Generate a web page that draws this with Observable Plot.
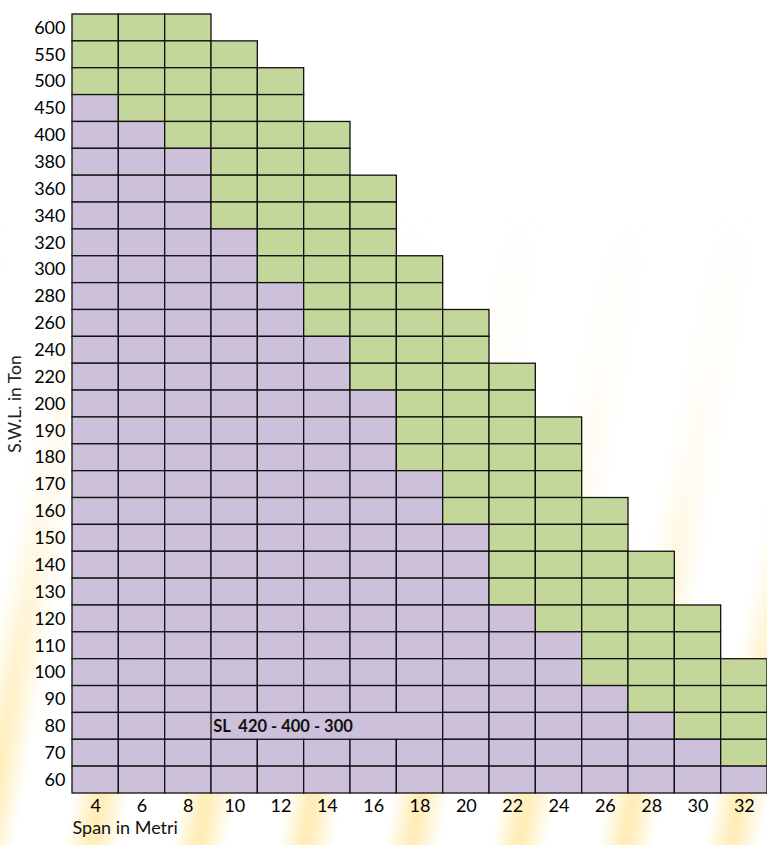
<!DOCTYPE html>
<html>
<head>
<meta charset="utf-8">
<script src="https://cdn.jsdelivr.net/npm/d3@7"></script>
<script src="https://cdn.jsdelivr.net/npm/@observablehq/plot@0.6"></script>
<style>
  html, body { margin: 0; padding: 0; background: #fff; }
  #wrap {
    position: relative; width: 767px; height: 845px; overflow: hidden;
  }
  #bg {
    position: absolute; left: 0; top: 0; width: 767px; height: 845px;
    background: repeating-linear-gradient(100deg,
      rgba(255,214,90,0) 0px, rgba(255,214,90,0.42) 24px, rgba(255,214,90,0.42) 30px,
      rgba(255,214,90,0) 56px, rgba(255,214,90,0) 105px);
    -webkit-mask-image: linear-gradient(to bottom, rgba(0,0,0,0) 25%, rgba(0,0,0,0.2) 55%, rgba(0,0,0,1) 94%);
    mask-image: linear-gradient(to bottom, rgba(0,0,0,0) 25%, rgba(0,0,0,0.2) 55%, rgba(0,0,0,1) 94%);
  }
  #chart { position: absolute; left: 0; top: 0; }
</style>
</head>
<body>
<div id="wrap"><div id="bg"></div><div id="chart"></div></div>
<script>
const spans = [4, 6, 8, 10, 12, 14, 16, 18, 20, 22, 24, 26, 28, 30, 32];
const loads = [600, 550, 500, 450, 400, 380, 360, 340, 320, 300, 280, 260, 240, 220, 200, 190, 180, 170, 160, 150, 140, 130, 120, 110, 100, 90, 80, 70, 60];
// highest load drawn for each span
const maxLoad = [600, 600, 600, 550, 500, 400, 360, 300, 260, 220, 190, 160, 140, 120, 100];
// lowest load shown in green for each span
const greenFrom = [500, 450, 400, 340, 300, 260, 220, 180, 160, 130, 120, 100, 90, 80, 70];
// merged label cell
const labelText = "SL  420 - 400 - 300";
const labelLoad = 80;
const mergedSpans = [10, 12, 14, 16, 18];

const cells = [];
spans.forEach((s, i) => {
  loads.forEach(l => {
    if (l <= maxLoad[i]) {
      cells.push({span: s, load: l, kind: l >= greenFrom[i] ? "G" : "P",
        merged: l === labelLoad && mergedSpans.includes(s)});
    }
  });
});

const colors = {G: "#c4d79b", P: "#ccc0da"};

const plot = Plot.plot({
  width: 767,
  height: 845,
  marginLeft: 72,
  marginRight: 0,
  marginTop: 14,
  marginBottom: 52,
  style: {background: "transparent", fontFamily: "Lato, 'Open Sans', sans-serif", fontSize: "17px", color: "#000"},
  x: {type: "band", domain: spans, padding: 0, round: false, label: null},
  y: {type: "band", domain: loads, padding: 0, round: false, label: null},
  marks: [
    Plot.cell(cells.filter(d => d.merged), {x: "span", y: "load", fill: d => colors[d.kind], stroke: d => colors[d.kind]}),
    Plot.cell(cells.filter(d => !d.merged), {x: "span", y: "load", fill: d => colors[d.kind], stroke: "#111", strokeWidth: 1.3}),
    Plot.text([labelText], {x: () => mergedSpans[0], y: () => labelLoad, text: d => d, textAnchor: "start", dx: -21.5,
      fontWeight: "bold", fontSize: 16.5, fill: "#111"}),
    Plot.axisX({tickSize: 0, tickPadding: 6, fontSize: 18, label: null}),
    Plot.axisY({tickSize: 0, tickPadding: 7, fontSize: 18, label: null}),
    Plot.text(["Span in Metri"], {frameAnchor: "bottom-left", text: d => d, dy: 40, textAnchor: "start", fontSize: 18, fill: "#111"}),
    Plot.text(["S.W.L. in Ton"], {frameAnchor: "left", text: d => d, rotate: -90, textAnchor: "middle", dx: -57, dy: 0, fontSize: 17.5, fill: "#222"})
  ]
});
document.getElementById("chart").appendChild(plot);
</script>
</body>
</html>
